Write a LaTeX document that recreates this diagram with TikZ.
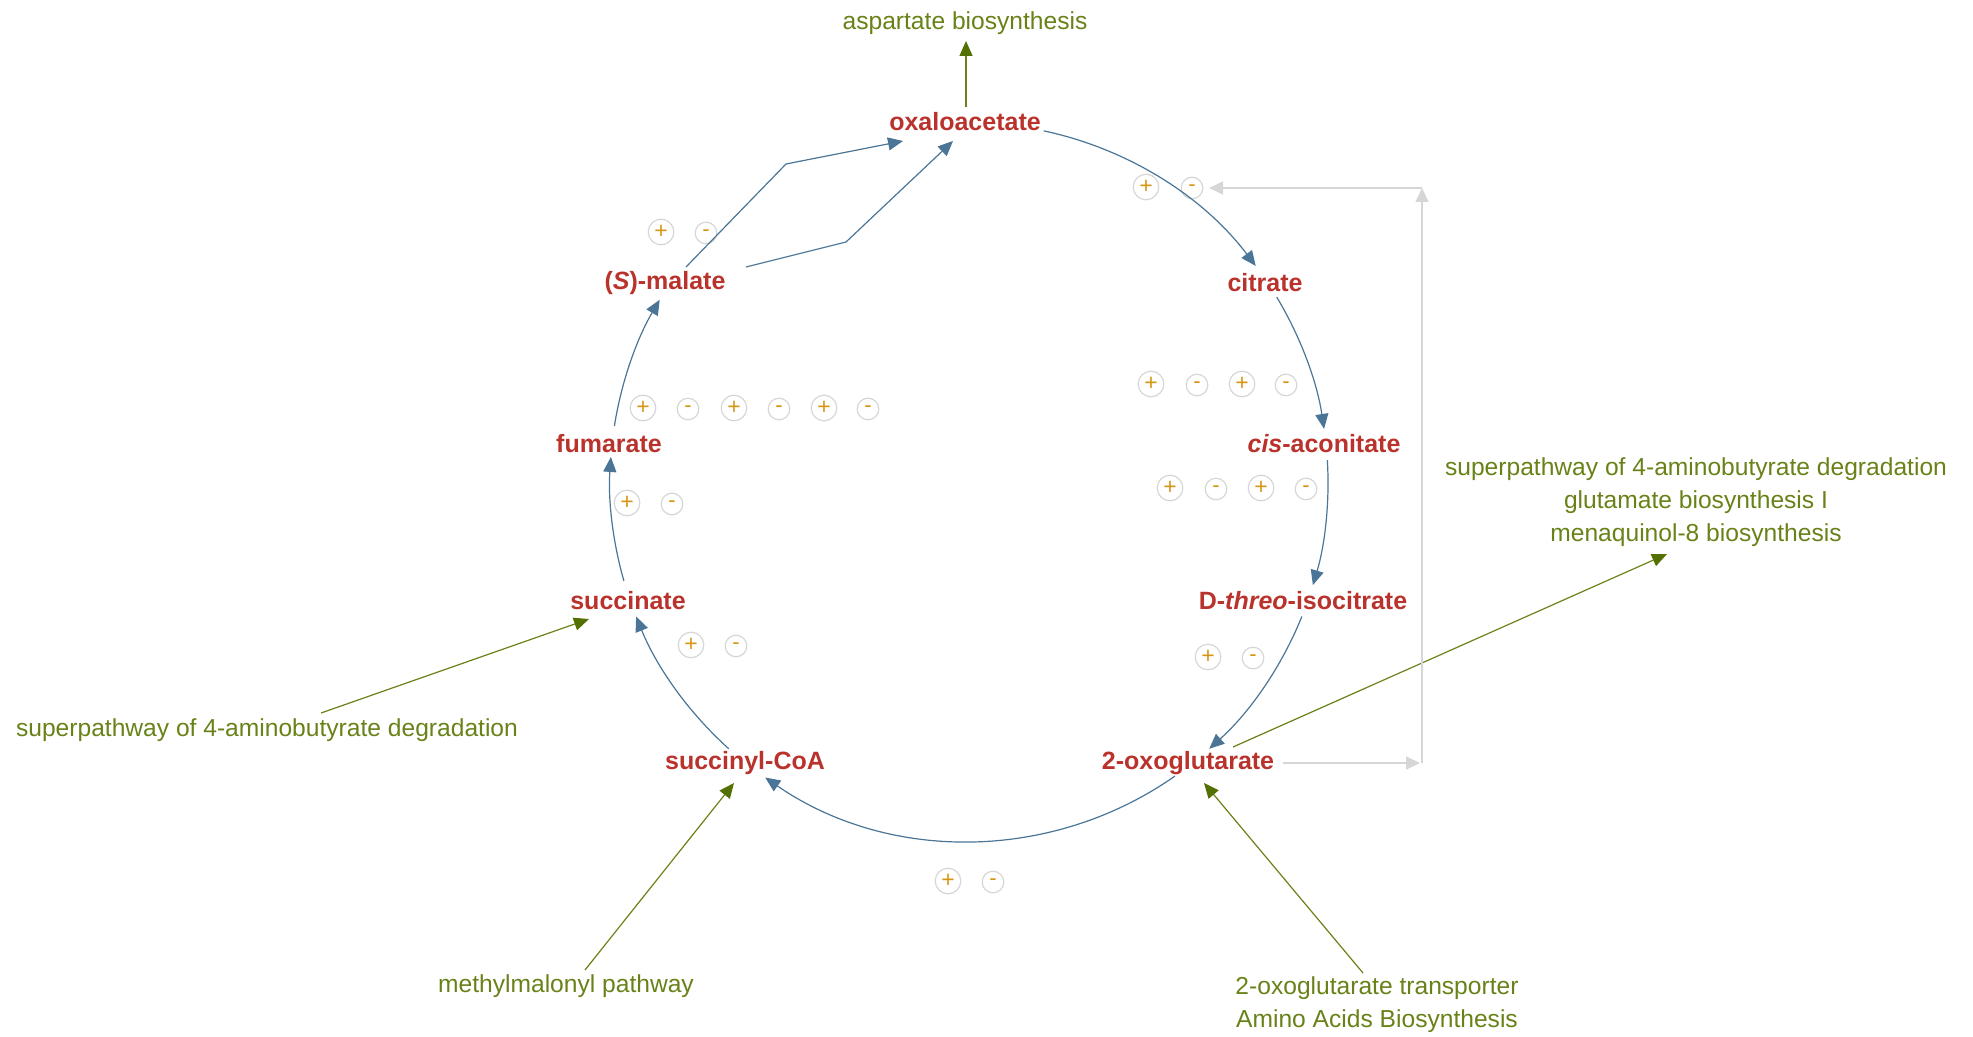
\documentclass[tikz,border=0pt]{standalone}
\usepackage{fontspec}
\setmainfont{Liberation Sans}
\usetikzlibrary{arrows.meta,calc}
\definecolor{metred}{RGB}{186,50,44}
\definecolor{rxnblue}{RGB}{74,117,150}
\definecolor{pwgreen}{RGB}{104,130,24}
\definecolor{pwdark}{RGB}{84,112,0}
\definecolor{linkgray}{RGB}{214,214,214}
\definecolor{signorange}{RGB}{214,150,20}
\newcommand{\Rad}{359}

\begin{document}
\begin{tikzpicture}[x=0.5pt,y=-0.5pt,
   met/.style={text=metred,font=\fontsize{12.5}{14}\selectfont\bfseries,inner sep=0pt},
   pw/.style={text=pwgreen,font=\fontsize{12.3}{16.5}\selectfont,align=center,inner sep=0pt},
   rxn/.style={draw=rxnblue,line width=0.6pt,-{Triangle[length=7.5pt,width=6.5pt,color=rxnblue]}},
   pwarr/.style={draw=pwgreen,line width=0.6pt,-{Triangle[length=7.5pt,width=6.5pt,color=pwdark]}},
   gry/.style={draw=linkgray,line width=0.8pt,-{Triangle[length=7pt,width=6.5pt,color=linkgray]}},
   pl/.style={circle,draw=linkgray,line width=0.6pt,minimum size=12.8pt,inner sep=0pt,text=signorange,font=\fontsize{11.5}{11.5}\selectfont},
   mn/.style={pl,minimum size=10.8pt,font=\fontsize{11}{11}\selectfont,yshift=-0.5pt}]
   \useasboundingbox (0,0) rectangle (1973,1037);
   \coordinate (C) at (969,482);

   \node[met] (oxa) at (965,122) {oxaloacetate};
   \node[met] (cit) at (1265,283) {citrate};
   \node[met] (cis) at (1324,444) {\textit{cis}-aconitate};
   \node[met] (iso) at (1303,601) {D-\textit{threo}-isocitrate};
   \node[met] (oxg) at (1188,763) {2-oxoglutarate};
   \node[met] (sca) at (745,763) {succinyl-CoA};
   \node[met] (suc) at (628,601) {succinate};
   \node[met] (fum) at (609,444) {fumarate};
   \node[met] (mal) at (665,283) {(\textit{S})-malate};

   \node[pw] (asp) at (965,23) {aspartate biosynthesis};
   \node[pw] (supR) at (1696,502) {superpathway of 4-aminobutyrate degradation\\glutamate biosynthesis I\\menaquinol-8 biosynthesis};
   \node[pw] (supL) at (267,730) {superpathway of 4-aminobutyrate degradation};
   \node[pw] (mmp) at (566,986) {methylmalonyl pathway};
   \node[pw] (trn) at (1377,1005) {2-oxoglutarate transporter\\Amino Acids Biosynthesis};

   \node[pl] (p1) at (1146,187) {+}; \node[mn] (m1) at (1192,187) {-};
   \node[pl] (p2) at (661,232) {+}; \node[mn] (m2) at (706,232) {-};
   \node[pl] (p3) at (1151,384) {+}; \node[mn] (m3) at (1197,384) {-};
   \node[pl] (p4) at (1242,384) {+}; \node[mn] (m4) at (1286,384) {-};
   \node[pl] (p5) at (643,408) {+}; \node[mn] (m5) at (688,408) {-};
   \node[pl] (p6) at (734,408) {+}; \node[mn] (m6) at (779,408) {-};
   \node[pl] (p7) at (824,408) {+}; \node[mn] (m7) at (868,408) {-};
   \node[pl] (p8) at (1170,488) {+}; \node[mn] (m8) at (1216,488) {-};
   \node[pl] (p9) at (1261,488) {+}; \node[mn] (m9) at (1306,488) {-};
   \node[pl] (p10) at (627,503) {+}; \node[mn] (m10) at (672,503) {-};
   \node[pl] (p11) at (1208,657) {+}; \node[mn] (m11) at (1253,657) {-};
   \node[pl] (p12) at (691,645) {+}; \node[mn] (m12) at (736,645) {-};
   \node[pl] (p13) at (948,881) {+}; \node[mn] (m13) at (993,881) {-};

   \draw[rxn] ($(C)+(-78:\Rad)$) arc[start angle=-78,end angle=-37,radius=\Rad];
   \draw[rxn] ($(C)+(-31:\Rad)$) arc[start angle=-31,end angle=-8.5,radius=\Rad];
   \draw[rxn] ($(C)+(-3.5:\Rad)$) arc[start angle=-3.5,end angle=16.7,radius=\Rad];
   \draw[rxn] ($(C)+(22:\Rad)$) arc[start angle=22,end angle=48,radius=\Rad];
   \draw[rxn] ($(C)+(55:\Rad)$) arc[start angle=55,end angle=124.6,radius=\Rad];
   \draw[rxn] ($(C)+(132:\Rad)$) arc[start angle=132,end angle=158,radius=\Rad];
   \draw[rxn] ($(C)+(164:\Rad)$) arc[start angle=164,end angle=184,radius=\Rad];
   \draw[rxn] ($(C)+(189:\Rad)$) arc[start angle=189,end angle=210.5,radius=\Rad];
   \draw[rxn] ($(mal)+(21,-16)$) -- (786,164) -- ($(oxa)+(-62,19)$);
   \draw[rxn] ($(mal)+(81,-16)$) -- (846,242) -- ($(oxa)+(-12,19)$);

   \draw[pwarr] ($(oxa)+(1,-15)$) -- ($(asp)+(1,18)$);
   \draw[pwarr] ($(oxg)+(45,-16)$) -- ($(supR)+(-29,52)$);
   \draw[pwarr] ($(supL)+(54,-17)$) -- ($(suc)+(-39,18)$);
   \draw[pwarr] ($(mmp)+(19,-16)$) -- ($(sca)+(-11,20)$);
   \draw[pwarr] ($(trn)+(-14,-32)$) -- ($(oxg)+(16,20)$);

   \coordinate (gc1) at (1422,763);
   \coordinate (gc2) at (1422,188);
   \draw[gry] ($(oxg)+(95,0)$) -- ($(gc1)+(-2,0)$);
   \draw[gry] (gc1) -- (gc2);
   \draw[gry] (gc2) -- ($(m1)+(17,0)$);
\end{tikzpicture}
\end{document}
